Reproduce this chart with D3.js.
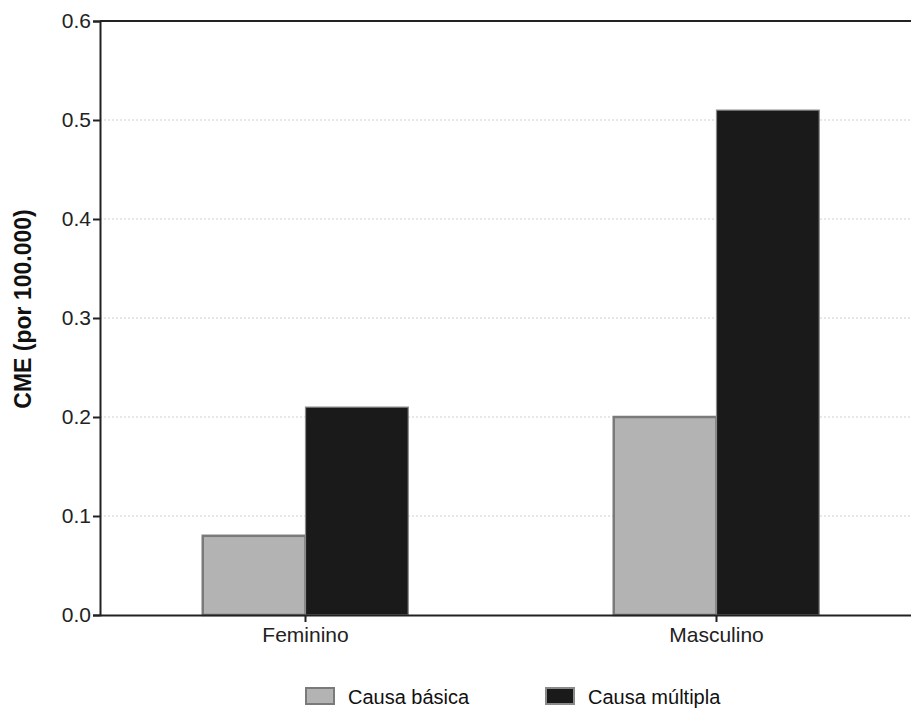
<!DOCTYPE html>
<html><head><meta charset="utf-8">
<script src="https://cdn.jsdelivr.net/npm/d3@7"></script>
<style>body{margin:0;background:#fff;} text{font-family:"Liberation Sans",Arial,sans-serif;}</style>
</head><body>
<svg id="c" width="911" height="708"></svg>
<script>
const categories = ["Feminino", "Masculino"];
const seriesNames = ["Causa básica", "Causa múltipla"];
const causaBasica = [0.08, 0.20];
const causaMultipla = [0.21, 0.51];
const yTicks = [0.0, 0.1, 0.2, 0.3, 0.4, 0.5, 0.6];

const fills = ["#b3b3b3", "#1a1a1a"];
const strokes = ["#7a7a7a", "#8a8a8a"];
const svg = d3.select("#c");
const L = 100, T = 21, B = 615, Rext = 922;
const FF = '"Liberation Sans",Arial,sans-serif';

const x = d3.scaleBand().domain(categories).range([L, Rext]).paddingInner(0).paddingOuter(0);
const y = d3.scaleLinear().domain([0, 0.6]).range([B, T]);
const xs = d3.scaleBand().domain(seriesNames).range([0, x.bandwidth()]).paddingOuter(1).paddingInner(0);

// grid
svg.append("g").selectAll("line").data(yTicks.filter(d => d > 0 && d < 0.6)).join("line")
  .attr("x1", L).attr("x2", 911).attr("y1", d => y(d)).attr("y2", d => y(d))
  .attr("stroke", "#cfcfcf").attr("stroke-width", 1).attr("stroke-dasharray", "2,2");

// top line
svg.append("line").attr("x1", L).attr("x2", 911).attr("y1", y(0.6)).attr("y2", y(0.6))
  .attr("stroke", "#222").attr("stroke-width", 2);

const data = categories.map((c, i) => ({c, vals: [causaBasica[i], causaMultipla[i]]}));
const g = svg.append("g").selectAll("g").data(data).join("g")
  .attr("transform", d => `translate(${x(d.c)},0)`);
g.selectAll("rect").data(d => d.vals.map((v, j) => ({v, j}))).join("rect")
  .attr("x", d => xs(seriesNames[d.j]))
  .attr("width", xs.bandwidth())
  .attr("y", d => y(d.v))
  .attr("height", d => y(0) - y(d.v))
  .attr("fill", d => fills[d.j])
  .attr("stroke", d => strokes[d.j])
  .attr("stroke-width", d => d.j === 0 ? 2.5 : 1.2);

// y axis
const ya = svg.append("g").attr("transform", `translate(${L},0)`)
  .call(d3.axisLeft(y).tickValues(yTicks).tickFormat(d3.format(".1f")).tickSize(7).tickPadding(2));
ya.select(".domain").attr("stroke", "#222").attr("stroke-width", 2);
ya.selectAll(".tick line").attr("stroke", "#222").attr("stroke-width", 2);
ya.selectAll(".tick text").attr("font-size", 21).attr("fill", "#222").style("font-family", FF);

// x axis
const xa = svg.append("g").attr("transform", `translate(0,${B})`)
  .call(d3.axisBottom(x).tickSize(7).tickPadding(5).tickSizeOuter(0));
xa.select(".domain").attr("stroke", "#222").attr("stroke-width", 2);
xa.selectAll(".tick line").attr("stroke", "#222").attr("stroke-width", 2);
xa.selectAll(".tick text").attr("font-size", 21).attr("fill", "#222").style("font-family", FF);

// y label
svg.append("text").attr("transform", `translate(31,309) rotate(-90)`)
  .attr("text-anchor", "middle").attr("font-size", 23).attr("font-weight", "bold").attr("fill", "#111")
  .text("CME (por 100.000)");

// legend
const lx = [306, 546];
const leg = svg.append("g").selectAll("g").data(seriesNames).join("g")
  .attr("transform", (d, i) => `translate(${lx[i]},688)`);
leg.append("rect").attr("width", 28).attr("height", 16)
  .attr("fill", (d, i) => fills[i]).attr("stroke", (d, i) => strokes[i]).attr("stroke-width", 2);
leg.append("text").attr("x", 42).attr("y", 16).attr("font-size", 20).attr("fill", "#111").text(d => d);
</script>
</body></html>
